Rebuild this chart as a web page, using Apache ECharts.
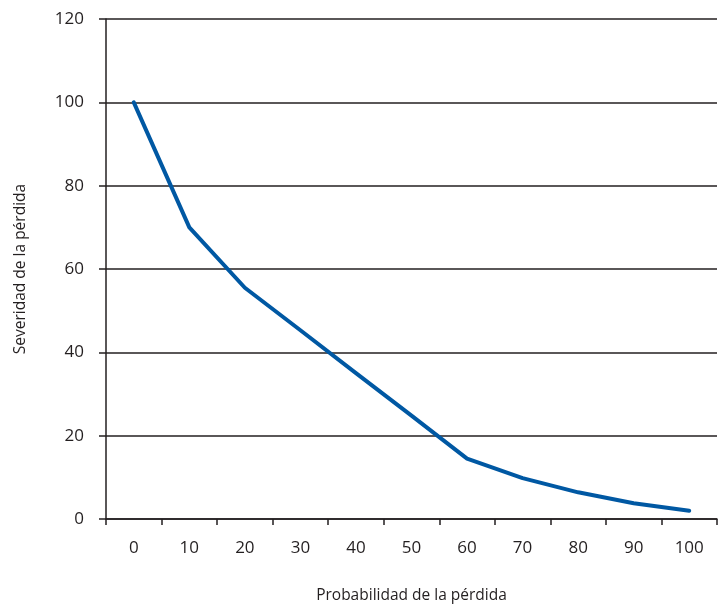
<!DOCTYPE html>
<html>
<head>
<meta charset="utf-8">
<script src="https://cdn.jsdelivr.net/npm/echarts@6/dist/echarts.min.js"></script>
<style>html,body{margin:0;padding:0;background:#fff;}#c{width:721px;height:609px;}</style>
</head>
<body>
<div id="c"></div>
<script>
var categories = ['0','10','20','30','40','50','60','70','80','90','100'];
var severity = [100, 70, 55.5, 45.3, 35, 24.8, 14.5, 9.8, 6.4, 3.8, 2.0];
var yTicks = {min: 0, max: 120, interval: 20};
var xTitle = 'Probabilidad de la pérdida';
var yTitle = 'Severidad de la pérdida';

var ink = '#231f20';
var font = '"Open Sans", "Noto Sans", sans-serif';
var chart = echarts.init(document.getElementById('c'), null, {renderer: 'canvas'});
chart.setOption({
  animation: false,
  backgroundColor: '#ffffff',
  grid: {left: 106, right: 4, top: 19, bottom: 87, containLabel: false},
  xAxis: {
    type: 'category',
    data: categories,
    boundaryGap: true,
    name: xTitle,
    nameLocation: 'middle',
    nameGap: 69,
    nameTextStyle: {color: ink, fontSize: 15.5, fontFamily: font},
    axisLine: {show: true, lineStyle: {color: ink, width: 1.5}},
    axisTick: {show: true, alignWithLabel: false, length: 6, lineStyle: {color: ink, width: 1.5}},
    axisLabel: {color: ink, fontSize: 17, fontFamily: font, margin: 21},
    splitLine: {show: false}
  },
  yAxis: {
    type: 'value',
    min: yTicks.min, max: yTicks.max, interval: yTicks.interval,
    name: yTitle,
    nameLocation: 'middle',
    nameGap: 77,
    nameRotate: 90,
    nameTextStyle: {color: ink, fontSize: 15.5, fontFamily: font},
    axisLine: {show: true, lineStyle: {color: ink, width: 1.5}},
    axisTick: {show: true, length: 7, lineStyle: {color: ink, width: 1.5}},
    axisLabel: {color: ink, fontSize: 17, fontFamily: font, margin: 22},
    splitLine: {show: true, lineStyle: {color: ink, width: 1.5}}
  },
  series: [{
    type: 'line',
    data: severity,
    symbol: 'none',
    lineStyle: {color: '#0058a3', width: 4, cap: 'round', join: 'round'},
    itemStyle: {color: '#0058a3'}
  }]
});
</script>
</body>
</html>
